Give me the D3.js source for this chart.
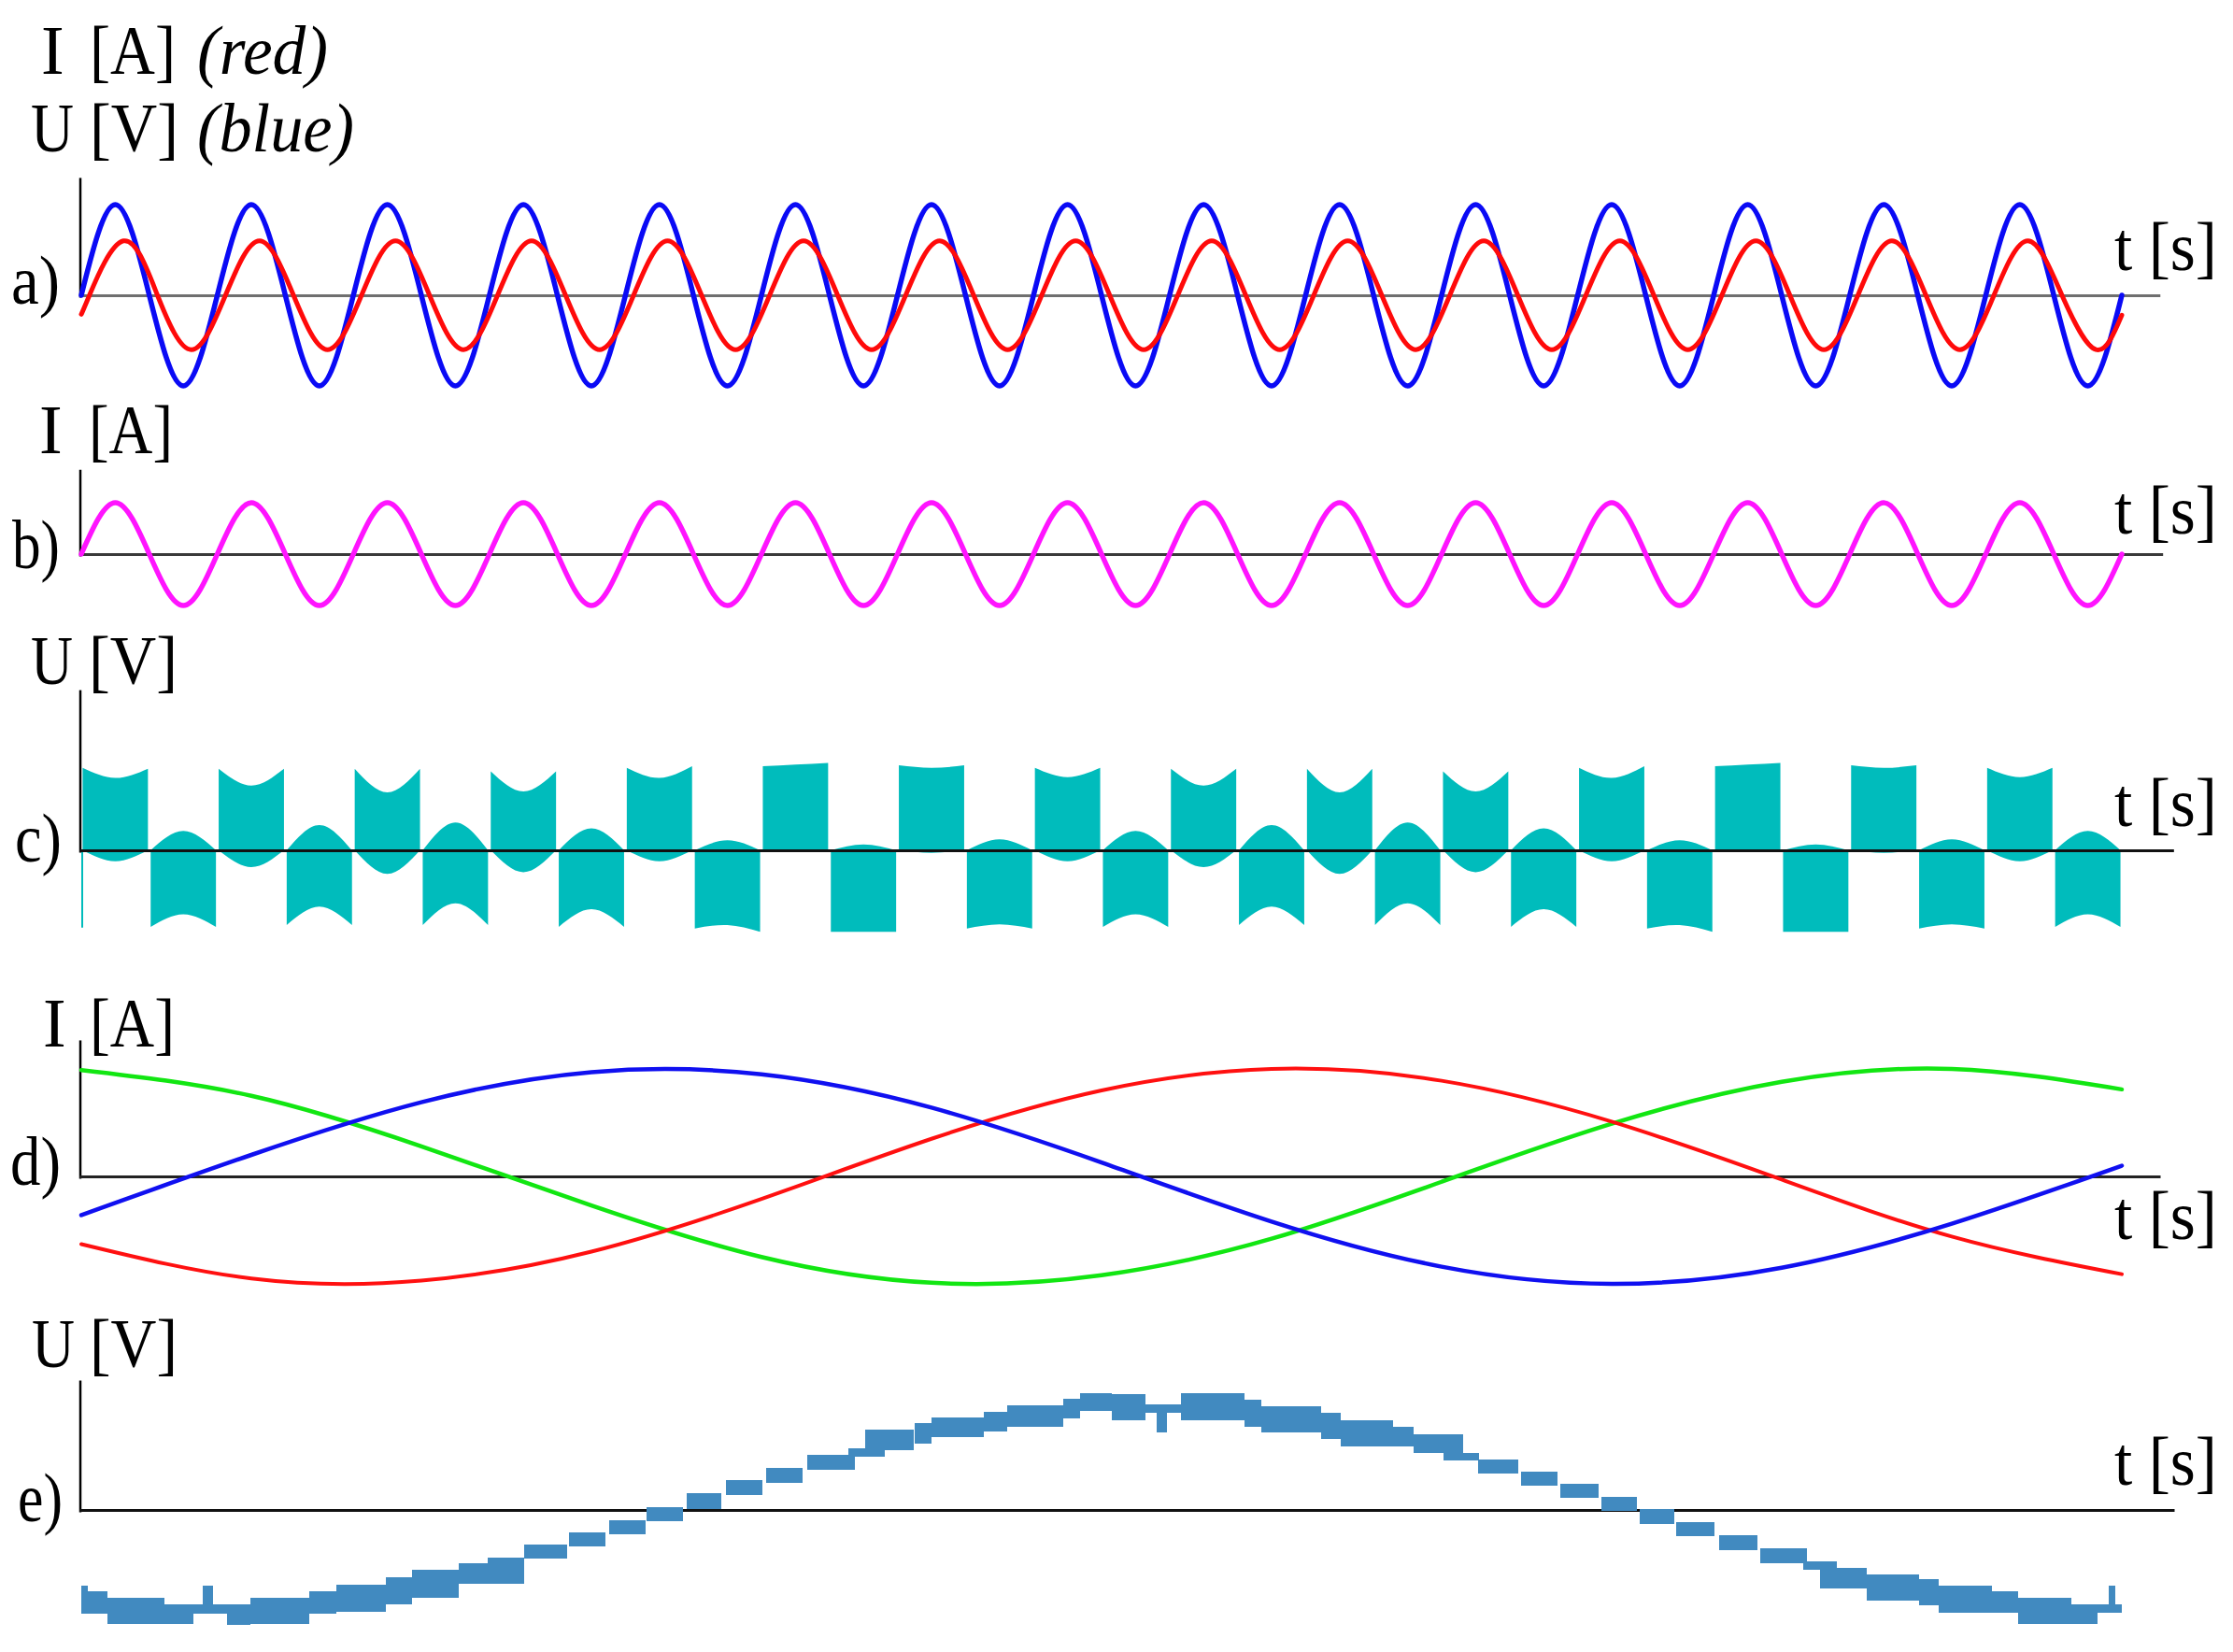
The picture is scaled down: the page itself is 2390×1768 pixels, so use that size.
<!DOCTYPE html>
<html>
<head>
<meta charset="utf-8">
<script src="https://cdn.jsdelivr.net/npm/d3@7"></script>
<style>
  html, body { margin: 0; padding: 0; background: #fff; }
  svg { display: block; }
  text { font-family: "Liberation Serif", "Times New Roman", serif; fill: #000; }
</style>
</head>
<body>
<div id="chart"></div>
<script>
// ════════════════════════════════════════════════
// DATA
// ════════════════════════════════════════════════

// a), b), c): 15 cycles of 20 ms, values normalised to the blue voltage peak
const uPeaks   = [1, 1, 1, 1, 1, 1, 1, 1, 1, 1, 1, 1, 1, 1, 1];
const uTroughs = [-1, -1, -1, -1, -1, -1, -1, -1, -1, -1, -1, -1, -1, -1, -1];
const iPeaks   = [0.6, 0.6, 0.6, 0.6, 0.6, 0.6, 0.6, 0.6, 0.6, 0.6, 0.6, 0.6, 0.6, 0.6, 0.6];
const iTroughs = [-0.6, -0.6, -0.6, -0.6, -0.6, -0.6, -0.6, -0.6, -0.6, -0.6, -0.6, -0.6, -0.6, -0.6, -0.6];
const iLagMs   = 1.2;            // current lags voltage
const iEnds    = [-0.21, -0.22]; // current value at t = 0 and t = 300 ms

const bPeaks   = [1, 1, 1, 1, 1, 1, 1, 1, 1, 1, 1, 1, 1, 1, 1];
const bTroughs = [-1, -1, -1, -1, -1, -1, -1, -1, -1, -1, -1, -1, -1, -1, -1];

// c) PWM voltage, one block per half cycle (10 ms): outer envelope start / middle / end, inner bump
const cOuterStart = [98, -91, 97, -89, 97, -89, 94, -91, 98, -93, 100, -97, 101, -93, 98,
                     -91, 97, -89, 97, -89, 94, -91, 98, -93, 100, -97, 101, -93, 98, -91];
const cOuterMid   = [86, -76, 77, -67, 69, -63, 70, -70, 86, -89, 102, -97, 98, -88, 87,
                     -76, 77, -67, 69, -63, 70, -70, 86, -89, 102, -97, 98, -88, 87, -76];
const cOuterEnd   = [97, -91, 97, -89, 97, -89, 94, -91, 100, -97, 104, -97, 101, -93, 98,
                     -91, 97, -89, 97, -89, 94, -91, 100, -97, 104, -97, 101, -93, 98, -91];
const cInner      = [-13, 23, -20, 30, -28, 33, -26, 26, -13, 12, -2, 7, -3, 13, -13,
                     23, -20, 30, -28, 33, -26, 26, -13, 12, -2, 7, -3, 13, -13, 23];
const cStartSpike = -92;

// d) three phase currents, read every 1.82 ms
const dTimes = [0, 1.82, 3.64, 5.46, 7.28, 9.10, 10.92, 12.74, 14.56, 16.38, 18.20, 20.02, 21.84];
const dBlue  = [-0.36, 0.20, 0.69, 0.97, 0.95, 0.64, 0.13, -0.42, -0.84, -1.00, -0.85, -0.44, 0.10];
const dRed   = [-0.63, -0.95, -0.97, -0.70, -0.21, 0.35, 0.80, 1.00, 0.89, 0.51, -0.03, -0.56, -0.91];
const dGreen = [0.99, 0.75, 0.28, -0.27, -0.75, -0.99, -0.92, -0.58, -0.05, 0.49, 0.88, 1.00, 0.81];

// e) staircase voltage band: [t start ms, t end ms, top V, bottom V]
const eSteps = [
  [0.00, 0.28, -87, -111], [0.00, 0.07, -81, -111], [0.28, 0.89, -94, -122],
  [0.89, 1.20, -101, -122], [1.20, 1.56, -101, -111], [1.30, 1.41, -81, -101],
  [1.56, 1.81, -101, -123], [1.81, 2.44, -94, -122], [2.44, 2.73, -87, -111],
  [2.73, 3.26, -80, -109], [3.26, 3.54, -72, -101], [3.54, 4.04, -64, -94],
  [4.04, 4.35, -57, -79], [4.35, 4.74, -51, -79], [4.74, 5.20, -37, -52],
  [5.22, 5.61, -24, -39], [5.65, 6.04, -11, -26], [6.05, 6.44, 3, -12],
  [6.48, 6.85, 18, 1], [6.90, 7.29, 32, 16], [7.33, 7.72, 45, 29],
  [7.77, 8.28, 59, 43], [8.21, 8.60, 66, 57], [8.39, 8.91, 86, 64],
  [8.92, 9.10, 93, 71], [9.10, 9.66, 99, 78], [9.66, 9.91, 105, 84],
  [9.91, 10.51, 112, 89], [10.51, 10.69, 119, 98], [10.69, 11.03, 125, 106],
  [11.03, 11.39, 124, 96], [11.39, 11.77, 113, 104], [11.51, 11.62, 104, 83],
  [11.77, 12.45, 125, 96], [12.45, 12.63, 118, 89], [12.63, 13.27, 111, 83],
  [13.27, 13.48, 104, 76], [13.48, 14.04, 96, 68], [14.04, 14.26, 89, 68],
  [14.26, 14.79, 81, 61], [14.58, 14.96, 61, 53], [14.95, 15.38, 54, 39],
  [15.41, 15.80, 41, 26], [15.83, 16.24, 28, 13], [16.27, 16.65, 14, -1],
  [16.68, 17.05, 1, -15], [17.07, 17.48, -13, -28], [17.53, 17.94, -27, -43],
  [17.97, 18.47, -41, -57], [18.43, 18.79, -55, -64], [18.61, 19.11, -62, -84],
  [19.11, 19.67, -69, -97], [19.67, 19.88, -74, -102], [19.88, 20.45, -81, -110],
  [20.45, 20.73, -87, -110], [20.73, 21.30, -94, -122], [21.30, 21.58, -101, -122],
  [21.58, 21.84, -101, -110], [21.70, 21.77, -81, -101]
];

// ════════════════════════════════════════════════
// LAYOUT
// ════════════════════════════════════════════════
const W = 2390, H = 1768;
const FONT = 74;

const xABC = d3.scaleLinear().domain([0, 300]).range([87, 2271]);
const xDE  = d3.scaleLinear().domain([0, 21.84]).range([87, 2271]);

const panels = {
  a: { x: xABC, y: d3.scaleLinear().domain([-1, 1]).range([413, 219]),       axisTop: 1.3,  zeroEnd: 305.6, zeroColor: "#6f6f6f" },
  b: { x: xABC, y: d3.scaleLinear().domain([-1, 1]).range([648, 538]),       axisTop: 1.65, zeroEnd: 306,   zeroColor: "#3a3a3a" },
  c: { x: xABC, y: d3.scaleLinear().domain([-100, 100]).range([1000, 820]),  axisTop: 191,  zeroEnd: 307.6, zeroColor: "#111" },
  d: { x: xDE,  y: d3.scaleLinear().domain([-1, 1]).range([1374, 1144]),     axisTop: 1.27, zeroEnd: 22.25, zeroColor: "#222" },
  e: { x: xDE,  y: d3.scaleLinear().domain([-120, 120]).range([1736, 1496]), axisTop: 139,  zeroEnd: 22.4,  zeroColor: "#111" }
};

const labels = [
  { t: "I",      x: 44,   y: 79 },
  { t: "[A]",    x: 96,   y: 79,   len: 92 },
  { t: "(red)",  x: 211,  y: 79,   len: 140, italic: true },
  { t: "U",      x: 33,   y: 162,  len: 46 },
  { t: "[V]",    x: 96,   y: 162,  len: 95 },
  { t: "(blue)", x: 211,  y: 162,  len: 168, italic: true },
  { t: "a)",     x: 12,   y: 325,  len: 52 },
  { t: "I",      x: 42,   y: 485 },
  { t: "[A]",    x: 95,   y: 485,  len: 90 },
  { t: "b)",     x: 13,   y: 608,  len: 51 },
  { t: "U",      x: 33,   y: 732,  len: 45 },
  { t: "[V]",    x: 95,   y: 732,  len: 95 },
  { t: "c)",     x: 16,   y: 922,  len: 50 },
  { t: "I",      x: 46,   y: 1120 },
  { t: "[A]",    x: 96,   y: 1120, len: 91 },
  { t: "d)",     x: 11,   y: 1268, len: 54 },
  { t: "U",      x: 34,   y: 1463, len: 46 },
  { t: "[V]",    x: 96,   y: 1463, len: 94 },
  { t: "e)",     x: 19,   y: 1628, len: 48 },
  { t: "t [s]",  x: 2263, y: 289,  len: 110 },
  { t: "t [s]",  x: 2263, y: 571,  len: 110 },
  { t: "t [s]",  x: 2263, y: 884,  len: 110 },
  { t: "t [s]",  x: 2263, y: 1326, len: 110 },
  { t: "t [s]",  x: 2263, y: 1589, len: 110 }
];

// ════════════════════════════════════════════════
// DRAW
// ════════════════════════════════════════════════
const svg = d3.select("#chart").append("svg")
  .attr("width", W).attr("height", H)
  .attr("viewBox", `0 0 ${W} ${H}`);

svg.append("rect").attr("width", W).attr("height", H).attr("fill", "#fff");

function yAxis(p) {
  const s = d3.scaleLinear().domain([0, p.axisTop]).range([p.y(0) + 2, p.y(p.axisTop)]);
  svg.append("g").attr("transform", `translate(${p.x(0) - 1.5},0)`)
    .call(d3.axisLeft(s).tickValues([]).tickSizeOuter(0))
    .call(g => g.select(".domain").attr("stroke", "#000").attr("stroke-width", 2.5));
}

function zeroLine(p) {
  const s = d3.scaleLinear().domain([0, p.zeroEnd]).range([p.x(0) - 2, p.x(p.zeroEnd)]);
  svg.append("g").attr("transform", `translate(0,${p.y(0)})`)
    .call(d3.axisBottom(s).tickValues([]).tickSizeOuter(0))
    .call(g => g.select(".domain").attr("stroke", p.zeroColor).attr("stroke-width", 3));
}

// quarter-cycle points (zero, peak, zero, trough) for each 20 ms cycle
function cyclePoints(peaks, troughs, lag) {
  const pts = [];
  peaks.forEach((pk, k) => {
    const t = lag + k * 20;
    pts.push([t, 0], [t + 5, pk], [t + 10, 0], [t + 15, troughs[k]]);
  });
  return pts;
}

function drawCurve(p, pts, color, width) {
  const line = d3.line()
    .x(d => p.x(d[0]))
    .y(d => p.y(d[1]))
    .curve(d3.curveNatural);
  svg.append("path")
    .datum(pts)
    .attr("fill", "none")
    .attr("stroke", color)
    .attr("stroke-width", width)
    .attr("stroke-linejoin", "round")
    .attr("stroke-linecap", "round")
    .attr("d", line);
}

// ── a) voltage and current ──
const pa = panels.a;
yAxis(pa); zeroLine(pa);
const uPts = cyclePoints(uPeaks, uTroughs, 0).concat([[300, 0]]);
const iPts = [[0, iEnds[0]]].concat(cyclePoints(iPeaks, iTroughs, iLagMs), [[300, iEnds[1]]]);
drawCurve(pa, uPts, "#0a0af5", 5.5);
drawCurve(pa, iPts, "#ff0a0a", 5);

// ── b) current ──
const pb = panels.b;
yAxis(pb); zeroLine(pb);
drawCurve(pb, cyclePoints(bPeaks, bTroughs, 0).concat([[300, 0]]), "#ff14ff", 5.5);

// ── c) PWM voltage blocks ──
const pc = panels.c;
yAxis(pc);
const cArea = d3.area()
  .x(d => pc.x(d.t))
  .y0(d => pc.y(d.inner))
  .y1(d => pc.y(d.outer))
  .curve(d3.curveNatural);
cOuterStart.forEach((s, k) => {
  const t0 = k * 10 + 0.2, t1 = (k + 1) * 10 - 0.2, tm = k * 10 + 5;
  const pts = [
    { t: t0, outer: s,            inner: 0 },
    { t: tm, outer: cOuterMid[k], inner: cInner[k] },
    { t: t1, outer: cOuterEnd[k], inner: 0 }
  ];
  svg.append("path").datum(pts)
    .attr("fill", "#00bcbc")
    .attr("d", cArea);
});
svg.append("line")
  .attr("x1", pc.x(0) + 1).attr("x2", pc.x(0) + 1)
  .attr("y1", pc.y(0)).attr("y2", pc.y(cStartSpike))
  .attr("stroke", "#00bcbc").attr("stroke-width", 2);
zeroLine(pc);

// ── d) three phase currents ──
const pd = panels.d;
yAxis(pd); zeroLine(pd);
const zipD = vals => dTimes.map((t, i) => [t, vals[i]]);
drawCurve(pd, zipD(dGreen), "#12e612", 4.5);
drawCurve(pd, zipD(dRed), "#ff1010", 4);
drawCurve(pd, zipD(dBlue), "#1010f0", 4.5);

// ── e) staircase voltage ──
const pe = panels.e;
yAxis(pe); zeroLine(pe);
svg.append("g").selectAll("rect")
  .data(eSteps).enter().append("rect")
  .attr("x", d => pe.x(d[0]))
  .attr("width", d => pe.x(d[1]) - pe.x(d[0]))
  .attr("y", d => pe.y(d[2]))
  .attr("height", d => pe.y(d[3]) - pe.y(d[2]))
  .attr("fill", "#418ac0");

// ── text ──
labels.forEach(l => {
  const t = svg.append("text")
    .attr("x", l.x).attr("y", l.y)
    .attr("font-size", FONT)
    .attr("font-style", l.italic ? "italic" : "normal")
    .text(l.t);
  if (l.len) t.attr("textLength", l.len).attr("lengthAdjust", "spacingAndGlyphs");
});
</script>
</body>
</html>
